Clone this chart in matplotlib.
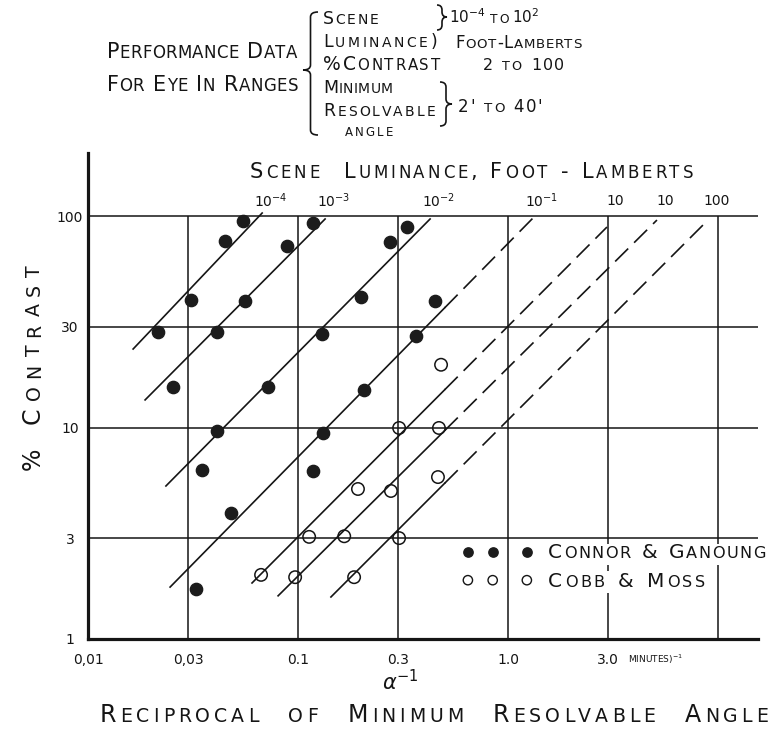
import numpy as np
import matplotlib
matplotlib.use('Agg')
import matplotlib.pyplot as plt
from matplotlib.path import Path
from matplotlib.patches import PathPatch, Rectangle
from matplotlib.transforms import IdentityTransform

# Connor & Ganoung (filled dots): reciprocal angle (1/min) vs % contrast
cg_alpha = [0.055, 0.045, 0.031, 0.0215, 0.118, 0.089, 0.056, 0.041, 0.33, 0.274,
            0.20, 0.13, 0.449, 0.365, 0.0254, 0.072, 0.206, 0.041, 0.131, 0.035,
            0.118, 0.048, 0.0327]
cg_contrast = [94.6, 76.2, 40.1, 28.3, 92.7, 72.1, 39.6, 28.3, 88.7, 75.4,
               41.4, 27.7, 39.6, 27.1, 15.5, 15.5, 15.0, 9.6, 9.4, 6.3,
               6.2, 3.94, 1.72]

# Cobb & Moss (open circles)
cm_alpha = [0.48, 0.303, 0.469, 0.464, 0.193, 0.277, 0.113, 0.166, 0.303,
            0.0667, 0.0969, 0.185]
cm_contrast = [19.8, 9.95, 9.95, 5.83, 5.12, 5.01, 3.04, 3.06, 3.0,
               2.01, 1.96, 1.96]

# constant-luminance lines (ends)
lum_labels = ['10$^{-4}$', '10$^{-3}$', '10$^{-2}$', '10$^{-1}$', '10', '10', '100']
line_x0 = [0.0164, 0.0187, 0.0235, 0.0246, 0.0604, 0.0804, 0.1435]
line_c0 = [23.5, 13.5, 5.29, 1.76, 1.84, 1.60, 1.58]
line_x1 = [0.0675, 0.1346, 0.4256, 1.315, 2.96, 5.12, 8.96]
line_c1 = [103.3, 96.8, 96.8, 97.8, 88.7, 95.7, 95.7]
solid_to = [None, None, None, 0.5, 0.5, 0.5, 0.5]   # dashed beyond this

x_ticks = [0.01, 0.03, 0.1, 0.3, 1.0, 3.0]
x_ticklabels = ['0,01', '0,03', '0.1', '0.3', '1.0', '3.0']
y_ticks = [1, 3, 10, 30, 100]
y_ticklabels = ['1', '3', '10', '30', '100']
x_grid = [0.03, 0.1, 0.3, 1.0, 3.0, 10.0]
y_grid = [3, 10, 30, 100]

W, H = 775, 730
PX = 100 / 72.0
INK = '#151515'

plt.rcParams['font.family'] = ['DejaVu Sans']
fig = plt.figure(figsize=(W / 100, H / 100), dpi=100)
ax = fig.add_axes([88 / W, (H - 639) / H, (758 - 88) / W, (639 - 153) / H])
ax.set_xscale('log')
ax.set_yscale('log')
xmax = 10 ** (-2 + 670 / 210.0)
ymax = 10 ** (2 + 63 / 211.5)
ax.set_xlim(0.01, xmax)
ax.set_ylim(1, ymax)

for s in ['top', 'right']:
    ax.spines[s].set_visible(False)
for s in ['left', 'bottom']:
    ax.spines[s].set_linewidth(2.3)
    ax.spines[s].set_color(INK)

ax.hlines(y_grid, 0.01, xmax, color=INK, lw=1.1, zorder=1)
ax.vlines(x_grid, 1, 100, color=INK, lw=1.1, zorder=1)

ax.set_xticks(x_ticks, x_ticklabels)
ax.set_yticks(y_ticks, y_ticklabels)
ax.minorticks_off()
ax.tick_params(axis='both', length=0, labelsize=10, colors=INK)
ax.tick_params(axis='x', pad=10)
ax.tick_params(axis='y', pad=13)
for lab in ax.get_yticklabels():
    lab.set_horizontalalignment('center')

# luminance lines
for i in range(len(line_x0)):
    x0, c0, x1, c1 = line_x0[i], line_c0[i], line_x1[i], line_c1[i]
    if solid_to[i] is None:
        ax.plot([x0, x1], [c0, c1], color=INK, lw=1.2, zorder=2)
    else:
        f = (np.log10(solid_to[i]) - np.log10(x0)) / (np.log10(x1) - np.log10(x0))
        cs = 10 ** (np.log10(c0) + f * (np.log10(c1) - np.log10(c0)))
        ax.plot([x0, solid_to[i]], [c0, cs], color=INK, lw=1.2, zorder=2)
        ax.plot([solid_to[i], x1], [cs, c1], color=INK, lw=1.2,
                linestyle=(0, (11, 5)), zorder=2)
    ax.annotate(lum_labels[i], (x1, 117.7), xytext=(6, 0), textcoords='offset points',
                ha='center', va='center', fontsize=10, color=INK, annotation_clip=False)

ax.scatter(cg_alpha, cg_contrast, s=78, color='#1c1c1c', zorder=3)
ax.scatter(cm_alpha, cm_contrast, s=80, facecolor='none', edgecolor=INK, lw=1.1, zorder=3)

# legend symbols
ax.scatter([0.567, 0.604, 0.655], [0.179] * 3, s=45, color='#1c1c1c',
           transform=ax.transAxes, zorder=3, clip_on=False)
ax.scatter([0.567, 0.604, 0.655], [0.121] * 3, s=45, facecolor='none', edgecolor=INK,
           lw=1.0, transform=ax.transAxes, zorder=3, clip_on=False)


def caps(x, y, s, size, width=None, rot=0, ratio=0.8):
    # hand-lettered small caps: x, y in image pixels, y is the baseline
    r = fig.canvas.get_renderer()
    items = []
    for ch in s:
        if ch == ' ':
            items.append((None, 0.38 * size * PX))
            continue
        fs = size * ratio if ch.islower() else size
        t = fig.text(0, 0, ch.upper(), fontsize=fs, rotation=rot, rotation_mode='anchor',
                     ha='left', va='baseline', color=INK, transform=IdentityTransform())
        bb = t.get_window_extent(r)
        items.append((t, bb.height if rot else bb.width))
    nat = sum(w for _, w in items)
    gap = 1.5 if width is None else (width - nat) / max(len(items) - 1, 1)
    pos = 0.0
    for t, w in items:
        if t is not None:
            if rot:
                t.set_position((x, H - y + pos))
            else:
                t.set_position((x + pos, H - y))
        pos += w + gap


def brace(x_tip, x_back, y0, y1, ym):
    xm = (x_tip + x_back) / 2.0
    r = 5
    pts = [(x_back, y0), (xm, y0), (xm, y0 + r), (xm, ym - r), (xm, ym), (x_tip, ym),
           (xm, ym), (xm, ym + r), (xm, y1 - r), (xm, y1), (x_back, y1)]
    codes = [Path.MOVETO, Path.CURVE3, Path.CURVE3, Path.LINETO, Path.CURVE3, Path.CURVE3,
             Path.CURVE3, Path.CURVE3, Path.LINETO, Path.CURVE3, Path.CURVE3]
    verts = [(px, H - py) for px, py in pts]
    fig.add_artist(PathPatch(Path(verts, codes), fill=False, lw=1.2, color=INK,
                             transform=IdentityTransform()))


def ptext(x, y, s, size, **kw):
    fig.text(x, H - y, s, fontsize=size, color=INK, transform=IdentityTransform(),
             va='baseline', **kw)


# header block
caps(107, 58, 'Performance Data', 15, width=190)
caps(107, 91, 'For Eye In Ranges', 15, width=191)
brace(303, 318, 12, 135, 70)
caps(323, 24, 'Scene', 12.5, width=55)
caps(323, 47, 'Luminance)', 12.5, width=114)
brace(447, 437, 5, 30, 17)
ptext(449, 23, '10$^{-4}$', 11)
caps(490, 23, 'to', 11)
ptext(512, 23, '10$^{2}$', 11)
caps(455, 48, 'Foot-Lamberts', 12, width=127)
caps(323, 70, '%Contrast', 13.5, width=117)
caps(483, 70, '2 to 100', 11.5)
caps(323, 93, 'Minimum', 12.5, width=70)
caps(323, 116, 'Resolvable', 12.5, width=112)
brace(452, 440, 82, 126, 104)
caps(458, 112, "2' to 40'", 12)
caps(345, 136, 'ANGLE', 8.5, width=48)

# axis titles
caps(250, 178, 'Scene  Luminance, Foot - Lamberts', 15, width=443)
caps(40, 470, '% Contrast', 17, width=205, rot=90)
ptext(400, 690, r'$\alpha^{-1}$', 15, ha='center')
ptext(628, 663, 'MINUTES)$^{-1}$', 6.5)
caps(100, 722, 'Reciprocal  of  Minimum  Resolvable  Angle', 17, width=668)

# legend text (white backing breaks the grid lines as on the original)
fig.add_artist(Rectangle((545, H - 565), 230, 21, color='white', lw=0,
                         transform=IdentityTransform()))
fig.add_artist(Rectangle((545, H - 593), 165, 22, color='white', lw=0,
                         transform=IdentityTransform()))
caps(548, 558, 'Connor & Ganoung', 14.5, width=218)
caps(548, 587, 'Cobb & Moss', 14.5, width=157)

fig.savefig('out.png', dpi=100)
